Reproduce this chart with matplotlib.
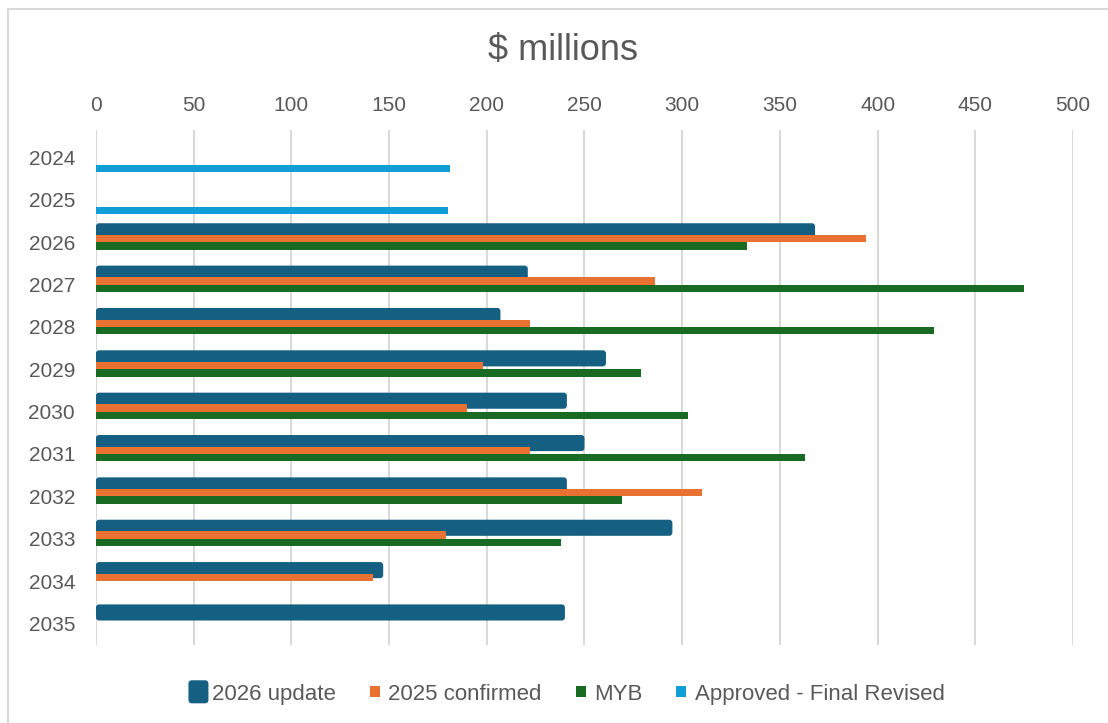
import numpy as np
import matplotlib
matplotlib.use('Agg')
import matplotlib.pyplot as plt
from matplotlib.patches import FancyBboxPatch, Rectangle
from matplotlib.legend_handler import HandlerBase

# Capital spend by year, $ millions
years = ['2024', '2025', '2026', '2027', '2028', '2029',
         '2030', '2031', '2032', '2033', '2034', '2035']
update_2026 = [np.nan, np.nan, 368, 221, 207, 261, 241, 250, 241, 295, 147, 240]
confirmed_2025 = [np.nan, np.nan, 394, 286, 222, 198, 190, 222, 310, 179, 142, np.nan]
myb = [np.nan, np.nan, 333, 475, 429, 279, 303, 363, 269, 238, np.nan, np.nan]
approved = [181, 180, np.nan, np.nan, np.nan, np.nan, np.nan, np.nan,
            np.nan, np.nan, np.nan, np.nan]

series_names = ['2026 update', '2025 confirmed', 'MYB', 'Approved - Final Revised']
colors = ['#156082', '#E97132', '#196B24', '#0F9ED5']
grey = '#595959'

plt.rcParams['font.family'] = ['Liberation Sans', 'DejaVu Sans']

fig = plt.figure(figsize=(11.08, 7.23), dpi=100)
ax = fig.add_axes([0.0866, 0.1079, 0.8818, 0.7123])

pos = np.arange(len(years))
slot = 0.172

# wide rounded bar for the 2026 update sits behind the other series
wide = ax.barh(pos - 1.5 * slot, update_2026, height=0.38, color=colors[0], zorder=2)
for rect in list(wide):
    x, y = rect.get_x(), rect.get_y()
    w, h = rect.get_width(), rect.get_height()
    rect.remove()
    if np.isnan(w):
        continue
    ax.add_patch(FancyBboxPatch((x, y), w, h,
                                boxstyle='round,pad=0,rounding_size=1.6',
                                mutation_aspect=0.046,
                                facecolor=colors[0], edgecolor='none', zorder=2))

ax.barh(pos - 0.5 * slot, confirmed_2025, height=slot, color=colors[1], zorder=3)
ax.barh(pos + 0.5 * slot, myb, height=slot, color=colors[2], zorder=3)
ax.barh(pos + 1.5 * slot, approved, height=slot, color=colors[3], zorder=3)

ax.set_xlim(0, 500)
ax.set_ylim(11.51, -0.65)
ax.set_xticks(range(0, 501, 50))
ax.set_yticks(pos)
ax.set_yticklabels(years)
ax.xaxis.tick_top()
ax.grid(axis='x', color='#d9d9d9', lw=1.5)
ax.set_axisbelow(True)
ax.tick_params(axis='x', length=0, labelsize=15, colors=grey, pad=11)
ax.tick_params(axis='y', length=0, labelsize=15, colors=grey, pad=15)
for s in ax.spines.values():
    s.set_visible(False)

fig.text(563 / 1108, 1 - 51 / 723, r'\$ millions', ha='center', va='center',
         fontsize=26, color=grey)

# chart area border
fig.add_artist(Rectangle((8 / 1108, -0.05), 1.1, 1.0375, transform=fig.transFigure,
                         fill=False, edgecolor='#d9d9d9', lw=1.5))


class BoxHandler(HandlerBase):
    def __init__(self, w, h, rounded=False):
        super().__init__()
        self.w, self.h, self.rounded = w, h, rounded

    def create_artists(self, legend, orig_handle, xdescent, ydescent,
                       width, height, fontsize, trans):
        cx = width / 2 - xdescent
        cy = height / 2 - ydescent
        if self.rounded:
            p = FancyBboxPatch((cx - self.w / 2, cy - self.h / 2), self.w, self.h,
                               boxstyle='round,pad=0,rounding_size=2.5')
        else:
            p = Rectangle((cx - self.w / 2, cy - self.h / 2), self.w, self.h)
        p.set_facecolor(orig_handle.get_facecolor())
        p.set_edgecolor('none')
        p.set_transform(trans)
        return [p]


handles = [Rectangle((0, 0), 1, 1, facecolor=c) for c in colors]
hmap = {handles[0]: BoxHandler(14.4, 16.6, True)}
for h in handles[1:]:
    hmap[h] = BoxHandler(7.2, 7.9)

fig.legend(handles, series_names, handler_map=hmap, loc='center',
           bbox_to_anchor=(0.511, 0.04), ncol=4, frameon=False, fontsize=16,
           handlelength=0.99, handletextpad=0.12, columnspacing=1.25,
           labelcolor=grey)

fig.savefig('out.png', dpi=100)
